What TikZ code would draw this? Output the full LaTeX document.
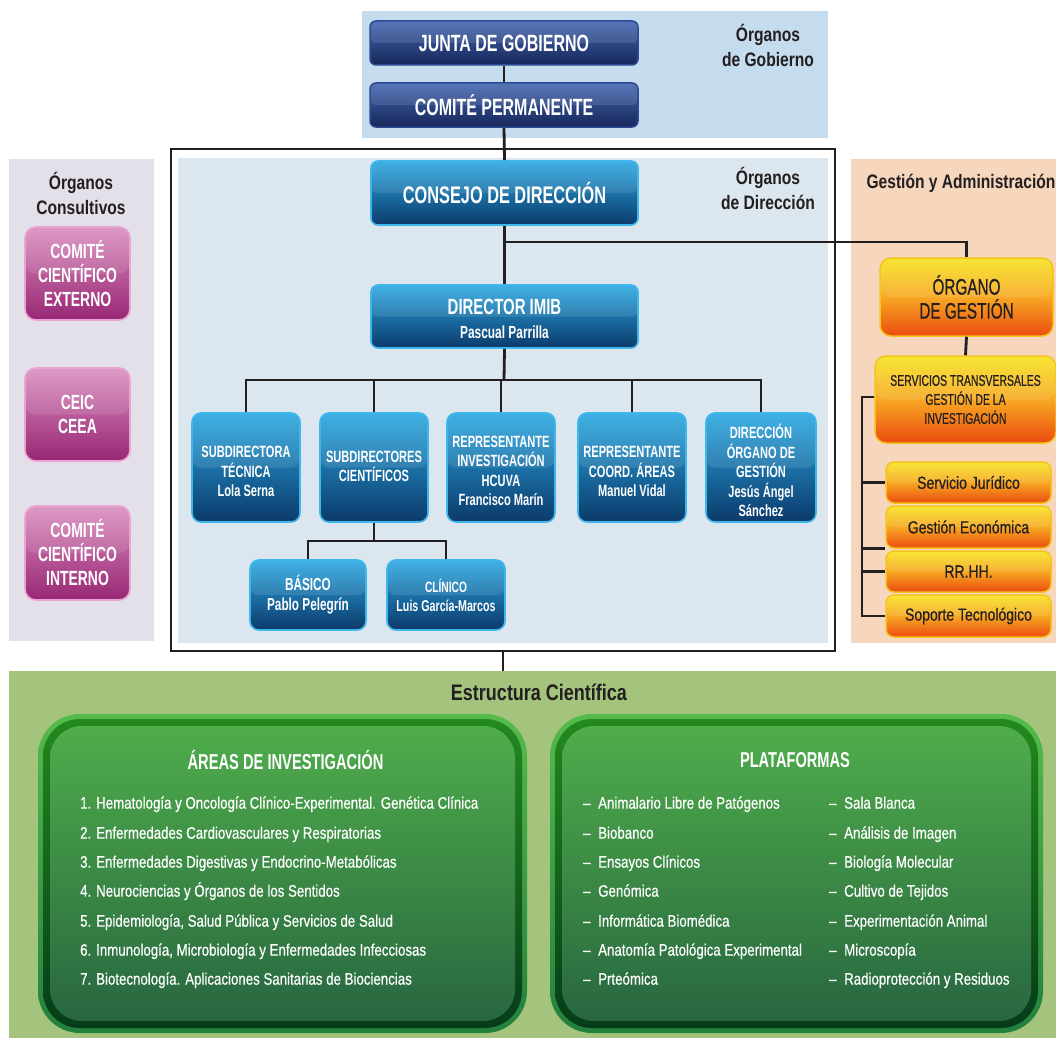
\documentclass[tikz,border=0pt]{standalone}
\usepackage{fontspec}
\setmainfont{Liberation Sans}[FakeStretch=0.80]
\newfontfamily\cnd{Liberation Sans}[FakeStretch=0.68]
\newfontfamily\cndm{Liberation Sans}[FakeStretch=0.68,FakeBold=0.6]
\newfontfamily\lst{Liberation Sans}[FakeStretch=0.80,FakeBold=0.5]
\usetikzlibrary{calc}
\definecolor{ink}{HTML}{231F20}
\definecolor{gobbgc}{HTML}{C5DBEE}
\definecolor{dirbgc}{HTML}{DCE6EF}
\definecolor{conbgc}{HTML}{E3E0EA}
\definecolor{gesbgc}{HTML}{F6D6BC}
\definecolor{grnbgc}{HTML}{A4C37C}
\definecolor{navyT}{HTML}{4466B0}
\definecolor{navyB}{HTML}{17275A}
\definecolor{navyD}{HTML}{2C4A92}
\definecolor{bluT}{HTML}{2AA8E2}
\definecolor{bluB}{HTML}{0C3A6B}
\definecolor{bluD}{HTML}{3DB7EC}
\definecolor{pnkT}{HTML}{DA8DBF}
\definecolor{pnkB}{HTML}{982774}
\definecolor{pnkD}{HTML}{E9A5D1}
\definecolor{orgT}{HTML}{F7E31E}
\definecolor{orgM}{HTML}{F7A823}
\definecolor{orgB}{HTML}{EC4B10}
\definecolor{orgD}{HTML}{F4C41C}
\definecolor{grnOT}{HTML}{55BB4B}
\definecolor{grnOB}{HTML}{23803D}
\definecolor{grnRT}{HTML}{23891F}
\definecolor{grnRB}{HTML}{053C19}
\definecolor{grnT}{HTML}{38A233}
\definecolor{grnB}{HTML}{0A5226}
\begin{document}
\begin{tikzpicture}[x=1pt,y=-1pt,
  bg/.style={fill=#1, draw=none, inner sep=0pt, rectangle},
  gloss/.style={path picture={\fill[white,opacity=0.10] (path picture bounding box.north west) rectangle (path picture bounding box.east);}},
  navybox/.style={rectangle, rounded corners=6pt, top color=navyT, bottom color=navyB, draw=navyD, line width=1.5pt, text=white, font=\cnd\bfseries\fontsize{23.5}{26}\selectfont, align=center, inner sep=1pt, gloss},
  bluebox/.style={rectangle, rounded corners=9pt, top color=bluT, bottom color=bluB, draw=bluD, line width=1.6pt, text=white, font=\cnd\bfseries\fontsize{16.3}{19.4}\selectfont, align=center, inner sep=1pt, gloss},
  btext/.style={text=white, font=\cnd\bfseries\fontsize{16.3}{19.4}\selectfont, align=center, inner sep=0pt},
  pinkbox/.style={rectangle, rounded corners=11pt, top color=pnkT, bottom color=pnkB, draw=pnkD, line width=1.6pt, text=white, font=\cnd\bfseries\fontsize{20.5}{24}\selectfont, align=center, inner sep=1pt, minimum width=105pt, minimum height=93pt, gloss},
  orgbox/.style={rectangle, rounded corners=8pt, top color=orgT, bottom color=orgB, middle color=orgM, draw=orgD, line width=1.5pt, text=ink, align=center, inner sep=1pt, gloss},
  link/.style={draw=ink, line width=2.8pt},
  head/.style={text=ink, font=\bfseries\fontsize{19.5}{25}\selectfont, align=center, inner sep=0pt},
  item/.style={text=white, font=\lst\fontsize{16.6}{18}\selectfont, anchor=mid west, inner sep=0pt},
  pout/.style={rectangle, top color=grnOT, bottom color=grnOB, rounded corners=42pt, minimum height=319pt, inner sep=0pt},
  pring/.style={rectangle, top color=grnRT, bottom color=grnRB, rounded corners=37pt, minimum height=309pt, inner sep=0pt},
  pin/.style={rectangle, top color=grnT, bottom color=grnB, rounded corners=32pt, minimum height=295pt, inner sep=0pt,
    path picture={\fill[white,opacity=0.12] (path picture bounding box.north west) rectangle (path picture bounding box.east |- 0,870);}},
]
\fill[white] (0,0) rectangle (1056,1038);
\useasboundingbox (0,0) rectangle (1056,1038);

% backgrounds
\node[bg=gobbgc, minimum width=466pt, minimum height=127pt] (gobbg) at (595,74.5) {};
\node[bg=conbgc, minimum width=145pt, minimum height=482pt] (conbg) at (81.5,400) {};
\node[bg=gesbgc, minimum width=205pt, minimum height=484pt] (gesbg) at (953.5,401) {};
\node[bg=grnbgc, minimum width=1047pt, minimum height=367pt] (grnbg) at (532.5,854.5) {};
\node[rectangle, draw=ink, line width=2.2pt, fill=white, minimum width=664pt, minimum height=502pt, inner sep=0pt] (frame) at (503,400) {};
\node[bg=dirbgc, minimum width=650pt, minimum height=485pt] (dirbg) at (503,400.5) {};

% headings
\node[head] (hgob) at (768,45) {Órganos\\de Gobierno};
\node[head] (hdir) at (768,188) {Órganos\\de Dirección};
\node[head] (hcon) at (81,193) {Órganos\\Consultivos};
\node[head] (hges) at (961,183) {Gestión y Administración};
\node[head, font=\bfseries\fontsize{22.5}{25}\selectfont] (hest) at (539,692) {Estructura Científica};

% nodes
\node[navybox, minimum width=268pt, minimum height=44pt] (junta) at (504,43) {JUNTA DE GOBIERNO};
\node[navybox, minimum width=268pt, minimum height=44pt] (comite) at (504,105) {COMITÉ PERMANENTE};
\node[bluebox, rounded corners=7pt, font=\cnd\bfseries\fontsize{24}{26}\selectfont, minimum width=267pt, minimum height=64pt] (consejo) at (504.5,193) {CONSEJO DE DIRECCIÓN};
\node[bluebox, rounded corners=7pt, minimum width=267pt, minimum height=63pt] (director) at (504.5,316.5) {};
\node[btext, font=\cnd\bfseries\fontsize{17.5}{24}\selectfont] (directort) at ($(director.center)+(0,2.5)$) {{\fontsize{22}{24}\selectfont DIRECTOR IMIB}\\Pascual Parrilla};

\node[bluebox, minimum width=108pt, minimum height=109pt] (s1) at (246,467.5) {};
\node[bluebox, minimum width=108pt, minimum height=109pt] (s2) at (374,467.5) {};
\node[bluebox, minimum width=108pt, minimum height=109pt] (s3) at (501,467.5) {};
\node[bluebox, minimum width=108pt, minimum height=109pt] (s4) at (632,467.5) {};
\node[bluebox, minimum width=110pt, minimum height=109pt] (s5) at (761,467.5) {};
\node[btext] (s1t) at ($(s1.center)+(0,4)$) {SUBDIRECTORA\\TÉCNICA\\Lola Serna};
\node[btext] (s2t) at ($(s2.center)+(0,-1)$) {SUBDIRECTORES\\CIENTÍFICOS};
\node[btext] (s3t) at ($(s3.center)+(0,3.5)$) {REPRESENTANTE\\INVESTIGACIÓN\\HCUVA\\Francisco Marín};
\node[btext] (s4t) at ($(s4.center)+(0,4)$) {REPRESENTANTE\\COORD. ÁREAS\\Manuel Vidal};
\node[btext] (s5t) at ($(s5.center)+(0,3)$) {DIRECCIÓN\\ÓRGANO DE\\GESTIÓN\\Jesús Ángel\\Sánchez};
\node[bluebox, font=\cnd\bfseries\fontsize{17.3}{20}\selectfont, minimum width=116pt, minimum height=70pt] (basico) at (308,595) {BÁSICO\\Pablo Pelegrín};
\node[bluebox, font=\cnd\bfseries\fontsize{15.7}{19}\selectfont, minimum width=118pt, minimum height=70pt] (clinico) at (446,595) {{\fontsize{15}{19}\selectfont CLÍNICO}\\Luis García-Marcos};

\node[pinkbox] (cce) at (77.5,273.5) {COMITÉ\\CIENTÍFICO\\EXTERNO};
\node[pinkbox] (ceic) at (77.5,414.5) {CEIC\\CEEA};
\node[pinkbox, minimum height=94pt] (cci) at (77.5,553) {COMITÉ\\CIENTÍFICO\\INTERNO};

\node[orgbox, rounded corners=11pt, font=\cndm\fontsize{22.5}{24}\selectfont, minimum width=173pt, minimum height=78pt] (organo) at (966.5,297) {ÓRGANO\\DE GESTIÓN};
\node[orgbox, rounded corners=11pt, font=\cndm\fontsize{15.4}{19}\selectfont, minimum width=181pt, minimum height=87pt] (serv) at (965.5,399.5) {SERVICIOS TRANSVERSALES\\GESTIÓN DE LA\\INVESTIGACIÓN};
\node[orgbox, font=\lst\fontsize{17.5}{18}\selectfont, minimum width=165pt, minimum height=41pt] (sj) at (968.5,482.5) {Servicio Jurídico};
\node[orgbox, font=\lst\fontsize{17.5}{18}\selectfont, minimum width=165pt, minimum height=42pt] (ge) at (968.5,527) {Gestión Económica};
\node[orgbox, font=\lst\fontsize{17.5}{18}\selectfont, minimum width=165pt, minimum height=41pt] (rr) at (968.5,571.5) {RR.HH.};
\node[orgbox, font=\lst\fontsize{17.5}{18}\selectfont, minimum width=165pt, minimum height=42pt] (st) at (968.5,616) {Soporte Tecnológico};

% connectors
\coordinate (bar) at (504,380);
\coordinate (bar2) at (374,541);
\coordinate (gbar) at (504,242);
\coordinate (trunk) at (862,397);
\draw[link] (junta.south) -- (comite.north);
\draw[link] (comite.south) -- (consejo.north);
\draw[link] (consejo.south) -- (director.north);
\draw[link] (gbar) -| (organo.north);
\draw[link] (organo.south) -- (serv.north);
\draw[link] (director.south) -- (bar);
\draw[link] (s1.north) -- (s1.north |- bar) -- (s5.north |- bar) -- (s5.north);
\draw[link] (s2.north) -- (s2.north |- bar);
\draw[link] (s3.north) -- (s3.north |- bar);
\draw[link] (s4.north) -- (s4.north |- bar);
\draw[link] (s2.south) -- (bar2);
\draw[link] (basico.north) -- (basico.north |- bar2) -- (clinico.north |- bar2) -- (clinico.north);
\draw[link] (serv.west |- trunk) -- (trunk) |- (st.west);
\draw[link] (trunk |- sj.west) -- (sj.west);
\draw[link] (trunk |- ge.south west) -- (ge.south west);
\draw[link] (trunk |- rr.west) -- (rr.west);
\draw[link] (frame.south) -- (frame.south |- grnbg.north);

% green panels
\node[pout, minimum width=489pt] (areasO) at (282.5,873.5) {};
\node[pring, minimum width=479pt] (areasR) at (282.5,873.5) {};
\node[pin, minimum width=465pt] (areas) at (282.5,873.5) {};
\node[pout, minimum width=493pt] (platO) at (796.5,873.5) {};
\node[pring, minimum width=483pt] (platR) at (796.5,873.5) {};
\node[pin, minimum width=469pt] (plat) at (796.5,873.5) {};

\node[text=white, font=\cnd\bfseries\fontsize{21.6}{22}\selectfont, inner sep=0pt] (tareas) at (285.5,760) {ÁREAS DE INVESTIGACIÓN};
\node[text=white, font=\cnd\bfseries\fontsize{21.5}{22}\selectfont, inner sep=0pt] (tplat) at (795,760) {PLATAFORMAS};

\node[item] (a1) at (80,806) {1. Hematología y Oncología Clínico-Experimental. Genética Clínica};
\node[item] (a2) at (80,836) {2. Enfermedades Cardiovasculares y Respiratorias};
\node[item] (a3) at (80,865) {3. Enfermedades Digestivas y Endocrino-Metabólicas};
\node[item] (a4) at (80,894) {4. Neurociencias y Órganos de los Sentidos};
\node[item] (a5) at (80,924) {5. Epidemiología, Salud Pública y Servicios de Salud};
\node[item] (a6) at (80,953) {6. Inmunología, Microbiología y Enfermedades Infecciosas};
\node[item] (a7) at (80,982) {7. Biotecnología. Aplicaciones Sanitarias de Biociencias};

\foreach \y/\t [count=\i] in {806/Animalario Libre de Patógenos, 836/Biobanco, 865/Ensayos Clínicos, 894/Genómica, 924/Informática Biomédica, 953/Anatomía Patológica Experimental, 982/Prteómica} {
  \node[item] (pd\i) at (583,\y) {–};
  \node[item] (pa\i) at (598,\y) {\t};
}
\foreach \y/\t [count=\i] in {806/Sala Blanca, 836/Análisis de Imagen, 865/Biología Molecular, 894/Cultivo de Tejidos, 924/Experimentación Animal, 953/Microscopía, 982/Radioprotección y Residuos} {
  \node[item] (qd\i) at (829,\y) {–};
  \node[item] (qa\i) at (844,\y) {\t};
}
\end{tikzpicture}
\end{document}
